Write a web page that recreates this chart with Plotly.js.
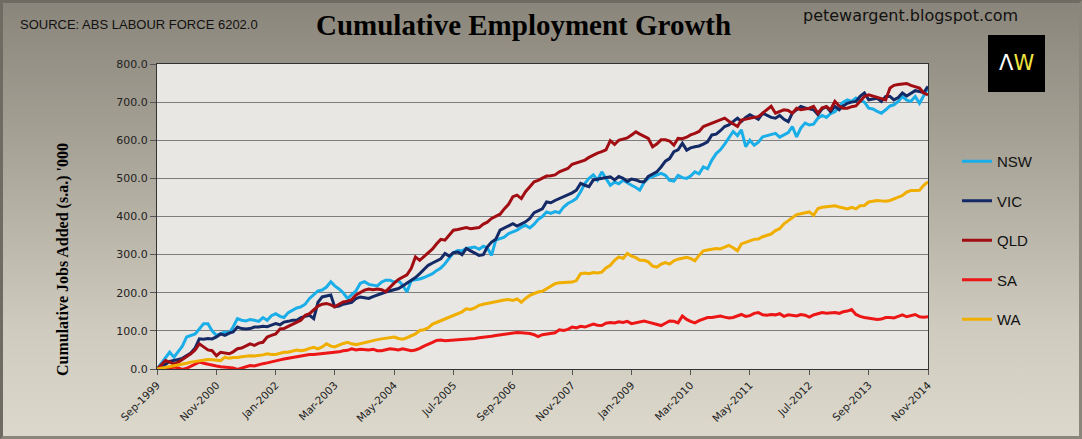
<!DOCTYPE html>
<html>
<head>
<meta charset="utf-8">
<script src="https://cdn.plot.ly/plotly-3.0.1.min.js"></script>
<style>
html,body{margin:0;padding:0;width:1082px;height:439px;overflow:hidden;}
body{background:linear-gradient(to bottom,#8a857a 0%,#a9a498 35%,#cfcbbf 75%,#dcd8cc 100%);}
#frame{position:absolute;left:0;top:0;width:1076px;height:433px;border:3px solid #8a867c;border-top-color:#6f6b62;border-left-color:#6f6b62;}
#chart{position:absolute;left:0;top:0;width:1082px;height:439px;}
</style>
</head>
<body>
<div id="frame"></div>
<div id="chart"></div>
<script>
// ---- data (monthly, Sep-1999 .. Nov-2014), cumulative jobs added '000 ----
const START_YEAR = 1999;
const START_MONTH = 9;

const SERIES_NAMES = ['NSW', 'VIC', 'QLD', 'SA', 'WA'];

const NSW = [
  0,15,30,44,31,45,60,84,88,92,105,119,
  119,100,88,92,97,95,110,132,128,126,130,128,
  125,135,128,140,145,138,135,148,155,160,163,170,
  185,195,205,207,215,229,218,210,200,185,195,205,
  225,229,222,220,218,228,233,233,228,232,220,202,
  232,234,236,240,245,250,258,265,276,290,305,311,
  310,316,318,320,314,322,318,298,338,342,346,355,
  360,364,372,377,370,380,392,400,412,408,413,410,
  425,434,440,447,465,487,500,509,495,517,500,482,
  490,486,495,488,482,476,469,490,500,505,509,513,
  508,495,493,508,502,500,506,517,512,530,525,548,
  565,575,590,605,623,612,627,583,600,587,595,609,
  612,615,618,608,615,620,636,609,632,645,640,642,
  658,665,660,670,675,689,700,706,702,711,706,700,
  684,682,676,671,680,690,693,702,715,705,702,715,
  697,718,737
];

const VIC = [
  0,5,12,20,22,25,28,35,42,55,79,78,
  80,79,84,92,88,94,97,110,106,105,106,110,
  110,112,111,115,119,116,123,125,128,128,135,138,
  141,132,175,189,192,194,163,165,170,172,175,185,
  189,187,185,190,195,198,202,205,208,211,218,225,
  232,240,250,262,272,278,283,289,303,296,305,307,
  300,316,310,305,298,300,320,333,340,364,370,375,
  381,375,380,386,395,410,415,420,438,436,442,447,
  450,455,462,469,487,482,478,496,498,500,502,504,
  496,505,500,492,498,496,492,491,505,510,517,530,
  545,552,570,575,592,574,580,583,585,590,596,614,
  616,625,636,640,650,658,649,660,667,660,655,671,
  665,660,658,665,655,649,671,680,689,685,682,680,
  667,682,688,675,689,680,690,697,700,702,715,724,
  706,708,710,702,715,715,706,712,724,716,722,730,
  728,725,741
];

const QLD = [
  0,10,22,18,13,18,25,31,40,50,66,58,
  50,48,35,44,42,40,45,53,55,60,66,62,
  68,70,84,88,92,105,106,112,118,122,128,141,
  145,155,165,170,172,168,163,170,176,178,182,194,
  200,207,210,208,210,208,203,215,225,235,241,247,
  264,294,285,295,303,315,328,340,338,350,364,366,
  368,371,368,370,371,380,385,395,400,406,420,432,
  452,456,447,465,478,491,495,500,506,507,509,517,
  522,526,537,540,544,548,555,561,566,570,575,599,
  589,600,603,606,614,622,616,610,605,583,590,601,
  601,598,587,605,604,608,614,618,623,636,640,645,
  649,652,658,650,642,636,653,656,658,660,662,671,
  678,689,671,675,680,678,671,684,680,682,684,689,
  671,685,688,680,702,690,684,684,688,690,702,715,
  719,716,712,708,706,737,744,746,748,749,744,740,
  737,724,719
];

const SA = [
  0,3,-2,2,5,3,-1,2,8,12,18,15,
  12,10,8,6,5,4,3,-1,2,5,9,8,
  12,14,16,18,20,24,26,28,31,33,35,36,
  38,38,39,40,42,43,44,45,48,49,53,50,
  52,51,50,52,48,48,50,53,52,50,53,51,
  48,50,54,60,66,70,75,76,74,75,76,76,
  77,78,78,80,82,83,85,86,88,90,91,92,
  94,96,95,94,93,90,85,90,92,94,95,103,
  101,104,110,108,112,110,114,118,115,114,120,122,
  121,124,122,125,119,122,124,126,123,120,116,114,
  120,126,125,121,139,130,125,121,127,132,135,135,
  137,139,136,134,135,139,143,138,140,146,148,142,
  141,143,142,145,138,142,140,139,143,141,136,142,
  145,148,146,147,148,146,150,152,156,143,138,135,
  133,132,130,131,135,135,134,138,142,137,139,143,
  137,136,137
];

const WA = [
  0,2,4,5,9,10,13,15,18,20,20,22,
  25,24,22,22,31,28,30,30,32,33,35,34,
  35,37,40,38,38,42,44,44,46,50,48,50,
  54,57,53,58,66,60,58,63,67,70,66,64,
  67,70,73,75,77,79,81,83,84,80,78,82,
  88,92,101,103,108,118,122,127,132,136,140,145,
  150,158,156,160,167,170,172,175,178,180,181,182,
  180,184,175,185,193,198,202,204,210,218,224,226,
  227,228,228,232,250,252,250,253,252,254,265,272,
  285,294,290,303,296,292,285,285,281,270,267,275,
  279,275,284,288,290,293,290,284,298,310,312,315,
  316,315,320,324,318,310,328,333,336,340,341,347,
  350,354,363,368,381,390,398,405,407,410,412,403,
  421,424,426,427,428,425,422,420,424,420,428,429,
  438,440,442,441,440,442,446,451,455,464,468,468,
  469,482,491
];

const TICK_LABELS = ['Sep-1999','Nov-2000','Jan-2002','Mar-2003','May-2004','Jul-2005','Sep-2006',
  'Nov-2007','Jan-2009','Mar-2010','May-2011','Jul-2012','Sep-2013','Nov-2014'];

const COLORS = ['#1aaee8', '#142a66', '#a10d12', '#ec1616', '#f0ae00'];

// ---- build ----
const MONTHS = ['Jan','Feb','Mar','Apr','May','Jun','Jul','Aug','Sep','Oct','Nov','Dec'];
function monthDate(k) {
  const m0 = START_MONTH - 1 + k;
  const y = START_YEAR + Math.floor(m0 / 12);
  const m = (m0 % 12) + 1;
  return y + '-' + String(m).padStart(2, '0') + '-01';
}
function labelToDate(lbl) {
  const [mon, yr] = lbl.split('-');
  return yr + '-' + String(MONTHS.indexOf(mon) + 1).padStart(2, '0') + '-01';
}
const dates = NSW.map((_, k) => monthDate(k));
const tickvals = TICK_LABELS.map(labelToDate);

const allSeries = [NSW, VIC, QLD, SA, WA];
const traces = allSeries.map((vals, i) => ({
  type: 'scatter',
  mode: 'lines',
  x: dates,
  y: vals,
  name: SERIES_NAMES[i],
  legendgroup: SERIES_NAMES[i],
  line: {color: COLORS[i], width: 3},
  hoverinfo: 'skip'
}));

// paper coordinate helpers (plot area px: x 157..928, y 64..369)
const L = 157, R = 928, T = 64, B = 369;
const px = v => (v - L) / (R - L);
const py = v => (B - v) / (B - T);

const layout = {
  width: 1082, height: 439,
  margin: {l: L, r: 1082 - R, t: T, b: 439 - B, pad: 0},
  paper_bgcolor: 'rgba(0,0,0,0)',
  plot_bgcolor: '#e9e7e3',
  showlegend: true,
  legend: {
    x: px(957), xanchor: 'left', y: py(145), yanchor: 'top',
    bgcolor: 'rgba(0,0,0,0)',
    font: {family: 'Liberation Sans, Arial, sans-serif', size: 15, color: '#111'},
    traceorder: 'grouped', tracegroupgap: 17, itemwidth: 30
  },
  xaxis: {
    type: 'date',
    range: [dates[0], dates[dates.length - 1]],
    tickmode: 'array', tickvals: tickvals, ticktext: TICK_LABELS,
    tickangle: -45,
    ticks: 'outside', ticklen: 5, tickcolor: '#555',
    tickfont: {family: 'DejaVu Sans, sans-serif', size: 10.5, color: '#222'},
    showgrid: false, zeroline: false,
    showline: true, linecolor: '#333', linewidth: 1, mirror: true
  },
  yaxis: {
    range: [0, 800], dtick: 100, tickformat: '.1f',
    ticks: 'outside', ticklen: 6, tickcolor: '#555',
    tickfont: {family: 'DejaVu Sans, sans-serif', size: 11, color: '#222'},
    showgrid: true, gridcolor: '#7d7d7d', gridwidth: 1,
    zeroline: false,
    showline: true, linecolor: '#333', linewidth: 1, mirror: true
  },
  shapes: [
    {type: 'rect', xref: 'paper', yref: 'paper', x0: px(988), x1: px(1045), y0: py(92), y1: py(35),
     fillcolor: '#000', line: {width: 0}}
  ],
  annotations: [
    {xref: 'paper', yref: 'paper', x: px(523), y: py(25), xanchor: 'center', yanchor: 'middle',
     text: '<b>Cumulative Employment Growth</b>', showarrow: false,
     font: {family: 'Liberation Serif, Times New Roman, serif', size: 29, color: '#000'}},
    {xref: 'paper', yref: 'paper', x: px(18), y: py(24), xanchor: 'left', yanchor: 'middle',
     text: 'SOURCE: ABS LABOUR FORCE 6202.0', showarrow: false,
     font: {family: 'Liberation Sans, Arial, sans-serif', size: 13, color: '#111'}},
    {xref: 'paper', yref: 'paper', x: px(910), y: py(16), xanchor: 'center', yanchor: 'middle',
     text: 'petewargent.blogspot.com', showarrow: false,
     font: {family: 'DejaVu Sans, sans-serif', size: 16, color: '#111'}},
    {xref: 'paper', yref: 'paper', x: px(1016), y: py(63), xanchor: 'center', yanchor: 'middle',
     text: '<span style="color:#ffffff">Λ</span><span style="color:#f1e640">W</span>', showarrow: false,
     font: {family: 'DejaVu Sans, sans-serif', size: 21, color: '#fff'}},
    {xref: 'paper', yref: 'paper', x: px(63), y: py(260), xanchor: 'center', yanchor: 'middle',
     text: "<b>Cumulative Jobs Added (s.a.) '000</b>", textangle: -90, showarrow: false,
     font: {family: 'Liberation Serif, Times New Roman, serif', size: 16, color: '#000'}}
  ]
};

Plotly.newPlot('chart', traces, layout, {staticPlot: true, displayModeBar: false});
</script>
</body>
</html>
